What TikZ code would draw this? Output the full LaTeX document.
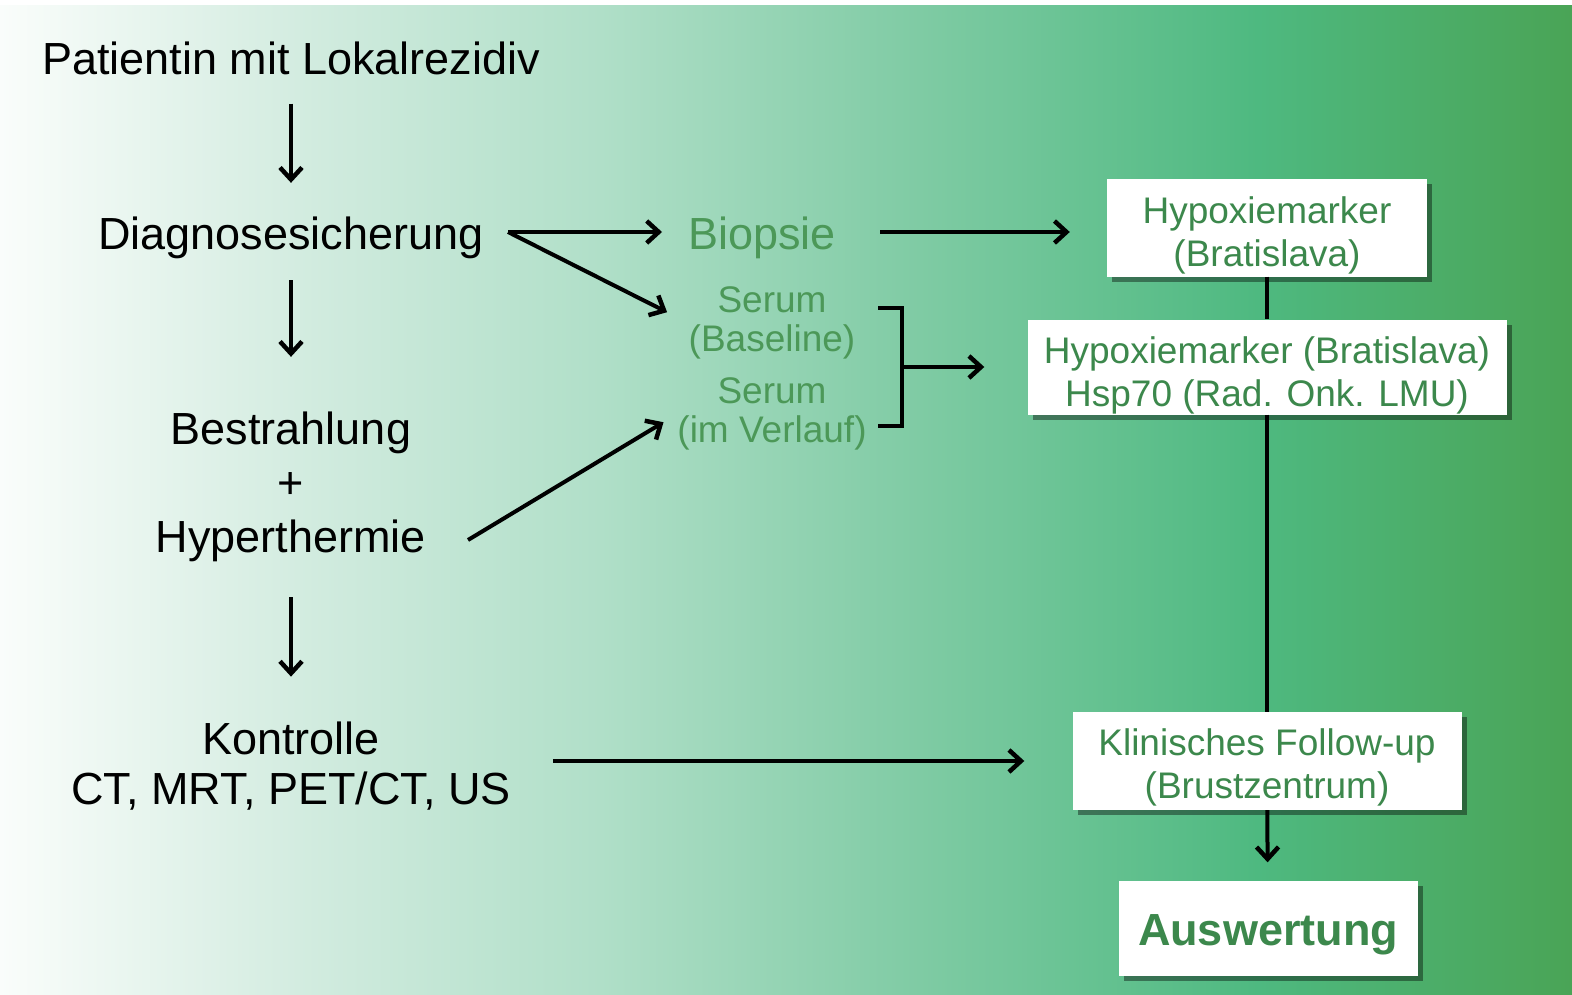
\documentclass[tikz,border=0pt]{standalone}
\usepackage{fontspec}
\setmainfont{Liberation Sans}
\usetikzlibrary{arrows.meta,shadows,calc}
\definecolor{g0}{RGB}{250,253,251}
\definecolor{g1}{RGB}{211,236,224}
\definecolor{g2}{RGB}{176,223,200}
\definecolor{g3}{RGB}{130,204,166}
\definecolor{g4}{RGB}{78,185,128}
\definecolor{g5}{RGB}{74,164,86}
\definecolor{txtgreen}{RGB}{76,152,88}
\definecolor{boxgreen}{RGB}{60,136,76}
\pgfdeclarehorizontalshading{bgshade}{100bp}{color(0bp)=(g0); color(25bp)=(g0); color(34.5bp)=(g1); color(44.1bp)=(g2); color(53.6bp)=(g3); color(65bp)=(g4); color(75bp)=(g5); color(100bp)=(g5)}
\tikzset{
  maintext/.style={inner sep=0pt, align=center, text=black, font=\fontsize{45}{54}\selectfont},
  serumtext/.style={inner sep=0pt, align=center, text=txtgreen, font=\fontsize{37}{39}\selectfont},
  whitebox/.style={fill=white, inner sep=0pt,
    drop shadow={shadow xshift=5pt, shadow yshift=-5pt, fill=black, opacity=0.4}},
  boxtext/.style={inner sep=0pt, align=center, text=boxgreen, font=\fontsize{37}{43}\selectfont},
  arr/.style={line width=4pt, -{Straight Barb[length=12pt,width=22pt,line width=4.5pt]}},
  plain/.style={line width=4pt},
}
\begin{document}
\begin{tikzpicture}[x=1pt,y=-1pt]
\useasboundingbox (0,0) rectangle (1572,995);
\fill[white] (0,0) rectangle (1572,995);
\shade[shading=bgshade] (0,6) rectangle (1572,995);

% left column
\node[maintext] (pat) at (291,58) {Patientin mit Lokalrezidiv};
\node[maintext] (diag) at (291,238) {Diagnosesicherung};
\node[maintext] (bh) at (291,487) {Bestrahlung\\+\\Hyperthermie};
\node[maintext, font=\fontsize{45}{50}\selectfont] (kon) at (291,766) {Kontrolle\\CT, MRT, PET/CT, US};

% middle column
\node[maintext, text=txtgreen] (bio) at (762,238) {Biopsie};
\node[serumtext] (serA) at (772,323) {Serum\\(Baseline)};
\node[serumtext] (serB) at (772,414) {Serum\\(im Verlauf)};

% right column boxes
\node[whitebox, minimum width=320pt, minimum height=97pt] (box1) at (1267,228) {};
\node[boxtext] (box1t) at (1267,235) {Hypoxiemarker\\(Bratislava)};
\node[whitebox, minimum width=479pt, minimum height=95pt] (box2) at (1267,367) {};
\node[boxtext] (box2t) at (1267,375) {Hypoxiemarker (Bratislava)\\Hsp70 (Rad. Onk. LMU)};
\node[whitebox, minimum width=389pt, minimum height=98pt] (box3) at (1267,761) {};
\node[boxtext] (box3t) at (1267,767) {Klinisches Follow-up\\(Brustzentrum)};
\node[whitebox, minimum width=299pt, minimum height=95pt] (box4) at (1268,928) {};
\node[boxtext, font=\fontsize{45}{50}\selectfont\bfseries] (box4t) at (1268,935) {Auswertung};

% helper coordinates
\coordinate (dsplit) at (508,232);
\coordinate (hstart) at (468,540);
\coordinate (brT) at (878,308);
\coordinate (brB) at (878,426);
\coordinate (brM) at (902,367);

% vertical arrows left
\draw[arr, shorten <=29pt, shorten >=34pt] (pat) -- (diag);
\draw[arr, shorten <=21pt, shorten >=55pt] (diag) -- (bh);
\draw[arr, shorten <=35pt, shorten >=45pt] (bh) -- (kon);

% to middle
\draw[arr, shorten >=26pt] (dsplit) -- (dsplit -| bio.west);
\draw[arr, shorten >=24pt] (dsplit) -- (serA.west);
\draw[arr, shorten >=16pt] (hstart) -- (serB.west);

% bracket
\draw[plain] (brT) -- (brT -| brM) -- (brB -| brM) -- (brB);
\draw[arr, shorten >=43pt] (brM) -- (brM -| box2.west);

% to right column
\draw[arr, shorten <=44pt, shorten >=37pt] (bio.east |- dsplit) -- (dsplit -| box1.west);
\draw[plain] (box1) -- (box2);
\draw[plain] (box2) -- (box3);
\draw[arr, shorten >=18pt] (box3) -- (box4);
\draw[arr, shorten <=42pt, shorten >=48pt] (kon.east |- box3.west) -- (box3.west);
\end{tikzpicture}
\end{document}
